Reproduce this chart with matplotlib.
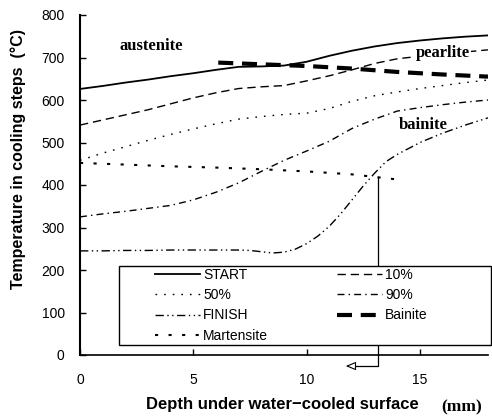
"""Cooling-step temperatures vs. depth under water-cooled surface."""

import matplotlib
matplotlib.use("Agg")
import matplotlib.pyplot as plt
from matplotlib.patches import Rectangle

# ─── data ────────────────────────────────────────────────────────────────────
DEPTH = [0, 1, 2, 3, 4, 5, 6, 7, 8, 9, 10, 11, 12, 13, 14, 15, 16, 17, 18]
T_START = [626, 633, 641, 648, 656, 663, 671, 678, 679, 681, 690, 704, 716, 726, 734, 740, 745, 749, 752]
T_10 = [541, 553, 565, 577, 591, 605, 617, 627, 631, 634, 645, 657, 671, 686, 697, 703, 708, 713, 718]
T_50 = [458, 475, 490, 505, 519, 532, 544, 555, 561, 566, 569, 580, 597, 610, 619, 627, 634, 641, 647]
T_90 = [325, 332, 338, 345, 352, 365, 383, 405, 432, 458, 480, 503, 533, 555, 574, 582, 589, 595, 600]

DEPTH_FINISH = [0, 1, 2, 3, 4, 5, 6, 7, 7.5, 8, 8.5, 9, 9.5, 10, 10.5, 11, 11.5, 12, 12.5, 13,
                13.5, 14, 15, 16, 17, 18]
T_FINISH = [245, 245, 246, 246, 247, 247, 247, 247, 246, 243, 240, 242, 249, 262, 280, 303,
            332, 365, 398, 428, 455, 472, 500, 522, 541, 558]

DEPTH_MART = [0, 2, 4, 6, 8, 10, 12, 14]
T_MART = [452, 448, 444, 441, 437, 432, 425, 413]

DEPTH_BAIN = [6.1, 8, 10, 12, 14, 16, 18]
T_BAIN = [688, 684, 680, 674, 666, 660, 655]

LABELS = ["START", "10%", "50%", "90%", "FINISH", "Bainite", "Martensite"]

# depth marker at the FINISH / Martensite crossing
MARK_X = 13.15
MARK_T = 420
ARROW_T = -26
ARROW_TIP_X = 11.6

plt.rcParams.update({
    "font.family": ["Liberation Sans", "DejaVu Sans"],
    "font.size": 10,
})

fig = plt.figure(figsize=(4.92, 4.16), dpi=100)
ax = fig.add_axes([80 / 492, 1 - 355 / 416, 408 / 492, 340 / 416])

h_start, = ax.plot(DEPTH, T_START, color="k", lw=1.3, ls="-", label=LABELS[0])
h_10, = ax.plot(DEPTH, T_10, color="k", lw=1.0, ls=(0, (6, 3.5)), label=LABELS[1])
h_50, = ax.plot(DEPTH, T_50, color="k", lw=1.0, ls=(0, (1.2, 5)), label=LABELS[2])
h_90, = ax.plot(DEPTH, T_90, color="k", lw=1.0, ls=(0, (5, 3, 1, 3)), label=LABELS[3])
h_fin, = ax.plot(DEPTH_FINISH, T_FINISH, color="k", lw=1.0,
                 ls=(0, (6, 2.5, 1, 2.5, 1, 2.5)), label=LABELS[4])
h_bain, = ax.plot(DEPTH_BAIN, T_BAIN, color="k", lw=3.0, ls=(0, (3.6, 2.1)),
                  solid_capstyle="butt", dash_capstyle="butt", label=LABELS[5])
h_mart, = ax.plot(DEPTH_MART, T_MART, color="k", lw=1.5, ls=(0, (1.5, 5)), label=LABELS[6])

# marker line down to the axis, then arrow to the left
ax.plot([MARK_X, MARK_X, ARROW_TIP_X + 0.45], [MARK_T, ARROW_T, ARROW_T],
        color="k", lw=0.9, clip_on=False, zorder=2)
ax.annotate("", xy=(ARROW_TIP_X, ARROW_T), xytext=(ARROW_TIP_X + 0.5, ARROW_T),
            arrowprops=dict(arrowstyle="-|>,head_length=0.6,head_width=0.25",
                            fc="white", ec="k", lw=0.8),
            annotation_clip=False)

# phase labels
ax.text(1.73, 718, "austenite", family="Liberation Serif", weight="bold",
        fontsize=12, va="baseline")
ax.text(14.82, 701, "pearlite", family="Liberation Serif", weight="bold",
        fontsize=12, va="baseline",
        bbox=dict(fc="white", ec="none", pad=0.6), zorder=3)
ax.text(14.07, 532, "bainite", family="Liberation Serif", weight="bold",
        fontsize=12, va="baseline")

ax.set_xlim(0, 18)
ax.set_ylim(0, 800)
ax.set_xticks([0, 5, 10, 15])
ax.set_yticks(range(0, 801, 100))
ax.spines["top"].set_visible(False)
ax.spines["right"].set_visible(False)
ax.spines["left"].set_linewidth(1.5)
ax.spines["bottom"].set_linewidth(1.2)
ax.tick_params(axis="both", direction="in", length=4, width=1, labelsize=10)
ax.tick_params(axis="y", pad=11)
ax.tick_params(axis="x", pad=13)

# legend: separate frame so the entries can sit indented like the original
ax.add_patch(Rectangle((0.0956, 0.029), 0.912, 0.233, transform=ax.transAxes,
                       fc="white", ec="k", lw=1.0, clip_on=False, zorder=4))
leg = ax.legend([h_start, h_50, h_fin, h_mart, h_10, h_90, h_bain],
                ["START", "50%", "FINISH", "Martensite", "10%", "90%", "Bainite"],
                ncol=2, loc="upper left", bbox_to_anchor=(0.184, 0.256),
                frameon=False, borderaxespad=0, borderpad=0,
                handlelength=3.2, handletextpad=0.25, columnspacing=5.0,
                labelspacing=0.45, fontsize=10)
leg.set_zorder(5)

fig.text(18 / 492, 1 - 159 / 416, "Temperature in cooling steps  (°C)",
         rotation=90, ha="center", va="center", fontsize=11.5, weight="bold")
fig.text(282 / 492, 1 - 405 / 416, "Depth under water\u2212cooled surface",
         ha="center", va="center", fontsize=12, weight="bold")
fig.text(462 / 492, 1 - 407 / 416, "(mm)", family="Liberation Serif",
         ha="center", va="center", fontsize=12.5, weight="bold")

fig.savefig("out.png", dpi=100)
